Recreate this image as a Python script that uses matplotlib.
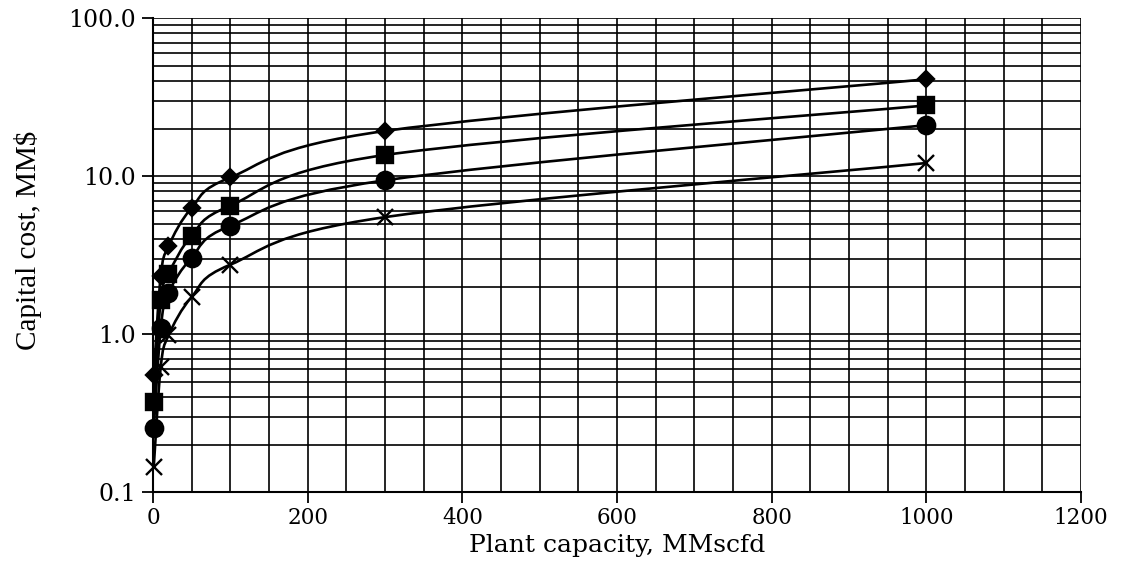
import numpy as np
import matplotlib
matplotlib.use("Agg")
import matplotlib.pyplot as plt
from matplotlib.path import Path
from matplotlib.patches import PathPatch
from matplotlib.ticker import FixedLocator, FixedFormatter, MultipleLocator, LogLocator, NullFormatter

# plant capacity, MMscfd
capacity = [1, 10, 20, 50, 100, 300, 1000]

# capital cost, MM$ (four curves)
cost_diamond = [0.55, 2.33, 3.6, 6.3, 9.8, 19.3, 41.0]
cost_square = [0.37, 1.64, 2.4, 4.2, 6.5, 13.6, 28.0]
cost_circle = [0.255, 1.09, 1.82, 3.05, 4.85, 9.4, 21.0]
cost_cross = [0.145, 0.62, 0.98, 1.72, 2.75, 5.5, 12.1]

y_ticks = [0.1, 1, 10, 100]
y_tick_labels = ["0.1", "1.0", "10.0", "100.0"]

plt.rcParams["font.family"] = ["DejaVu Serif"]


def smooth_path(x, y):
    """Excel-style smoothed line: Catmull-Rom bezier in (x, log y) space."""
    px = np.asarray(x, float)
    py = np.log10(np.asarray(y, float))
    n = len(px)
    verts = [(px[0], py[0])]
    codes = [Path.MOVETO]
    for i in range(n - 1):
        i0 = max(i - 1, 0)
        i3 = min(i + 2, n - 1)
        c1 = (px[i] + (px[i + 1] - px[i0]) / 6, py[i] + (py[i + 1] - py[i0]) / 6)
        c2 = (px[i + 1] - (px[i3] - px[i]) / 6, py[i + 1] - (py[i3] - py[i]) / 6)
        verts += [c1, c2, (px[i + 1], py[i + 1])]
        codes += [Path.CURVE4] * 3
    verts = [(vx, 10 ** vy) for vx, vy in verts]
    return Path(verts, codes)


fig = plt.figure(figsize=(11.25, 5.65), dpi=100)
ax = fig.add_axes([0.136, 0.129, 0.825, 0.839])

ax.set_yscale("log")
ax.set_xlim(0, 1200)
ax.set_ylim(0.1, 100)

series = [
    (cost_diamond, "D", 8.5),
    (cost_square, "s", 12),
    (cost_circle, "o", 12.5),
    (cost_cross, "x", 12),
]
for vals, mk, ms in series:
    ax.add_patch(PathPatch(smooth_path(capacity, vals), facecolor="none",
                           edgecolor="black", lw=1.9, zorder=3, clip_on=False))
    ax.plot(capacity, vals, linestyle="none", marker=mk, ms=ms, color="black",
            mew=1.7, zorder=4, clip_on=False)

# grid
ax.xaxis.set_major_locator(MultipleLocator(200))
ax.xaxis.set_minor_locator(MultipleLocator(50))
ax.yaxis.set_major_locator(FixedLocator(y_ticks))
ax.yaxis.set_major_formatter(FixedFormatter(y_tick_labels))
ax.yaxis.set_minor_locator(LogLocator(base=10, subs=np.arange(2, 10)))
ax.yaxis.set_minor_formatter(NullFormatter())
ax.grid(True, which="both", color="black", lw=1.2)
ax.set_axisbelow(True)

for side in ["top", "right"]:
    ax.spines[side].set_visible(False)
for side in ["left", "bottom"]:
    ax.spines[side].set_linewidth(1.5)

ax.tick_params(axis="both", which="major", direction="out", length=8, width=1.3)
ax.tick_params(axis="both", which="minor", length=0)
ax.tick_params(axis="x", labelsize=15.5, pad=3)
ax.tick_params(axis="y", labelsize=17, pad=4)

ax.set_xlabel("Plant capacity, MMscfd", fontsize=18, labelpad=3)
ax.set_ylabel("Capital cost, MM$", fontsize=21,
              family=["Liberation Serif", "DejaVu Serif"])
ax.yaxis.set_label_coords(-0.12, 0.532)

fig.savefig("out.png", dpi=100)
